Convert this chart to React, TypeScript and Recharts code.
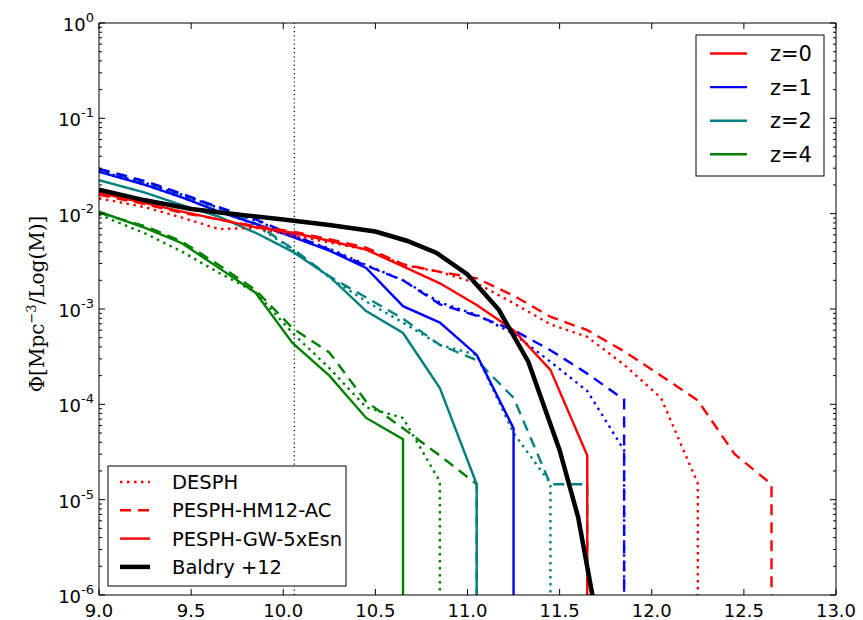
import { LineChart, Line, XAxis, YAxis, ReferenceLine } from "recharts";

const W = 863;
const H = 620;

// bin centres (log stellar mass); the first entry is the left edge of the plot
const BINS = [
  9.0, 9.25, 9.45, 9.65, 9.85, 10.05, 10.25, 10.45, 10.65, 10.85, 11.05,
  11.25, 11.45, 11.65, 11.85, 12.05, 12.25, 12.45, 12.65,
];

// z = 0
const Z0_DESPH = [1.45e-2, 1.17e-2, 9.1e-3, 6.9e-3, 7.1e-3, 5.9e-3, 5.0e-3, 4.2e-3, 2.9e-3, 2.45e-3, 1.86e-3, 1.15e-3, 6.9e-4, 5.1e-4, 2.6e-4, 1.17e-4, 1.48e-5];
const Z0_HM12 = [1.58e-2, 1.26e-2, 1.02e-2, 8.7e-3, 7.4e-3, 6.5e-3, 5.4e-3, 4.4e-3, 2.95e-3, 2.45e-3, 2.1e-3, 1.38e-3, 8.3e-4, 6.0e-4, 3.6e-4, 2.0e-4, 1.1e-4, 3.0e-5, 1.45e-5];
const Z0_GW = [1.66e-2, 1.29e-2, 1.05e-2, 8.7e-3, 7.2e-3, 6.3e-3, 5.2e-3, 4.2e-3, 2.8e-3, 1.86e-3, 1.1e-3, 6.0e-4, 2.3e-4, 2.9e-5];
// z = 1
const Z1_DESPH = [2.8e-2, 2.1e-2, 1.58e-2, 1.15e-2, 8.5e-3, 5.9e-3, 4.3e-3, 2.9e-3, 2.0e-3, 1.17e-3, 8.7e-4, 5.5e-4, 2.8e-4, 1.38e-4, 3.3e-5];
const Z1_HM12 = [2.95e-2, 2.2e-2, 1.62e-2, 1.17e-2, 8.7e-3, 6.0e-3, 4.2e-3, 2.85e-3, 2.0e-3, 1.12e-3, 8.5e-4, 6.0e-4, 3.7e-4, 2.1e-4, 1.12e-4];
const Z1_GW = [2.75e-2, 2.0e-2, 1.48e-2, 1.05e-2, 7.8e-3, 5.7e-3, 4.1e-3, 2.7e-3, 1.07e-3, 7.2e-4, 3.3e-4, 5.6e-5];
// z = 2
const Z2_DESPH = [2.75e-2, 2.0e-2, 1.48e-2, 1.07e-2, 7.6e-3, 4.2e-3, 2.15e-3, 1.2e-3, 7.2e-4, 4.2e-4, 3.3e-4, 5.0e-5, 1.48e-5];
const Z2_HM12 = [2.88e-2, 2.09e-2, 1.55e-2, 1.15e-2, 7.9e-3, 4.3e-3, 2.2e-3, 1.32e-3, 7.9e-4, 4.2e-4, 2.9e-4, 1.17e-4, 1.45e-5, 1.45e-5];
const Z2_GW = [2.24e-2, 1.66e-2, 1.23e-2, 9.3e-3, 6.3e-3, 4.0e-3, 2.2e-3, 9.5e-4, 5.6e-4, 1.48e-4, 1.45e-5];
// z = 4
const Z4_DESPH = [9.8e-3, 6.2e-3, 4.0e-3, 2.4e-3, 1.5e-3, 5.6e-4, 2.4e-4, 9.3e-5, 7.2e-5, 1.55e-5];
const Z4_HM12 = [1.02e-2, 7.4e-3, 5.1e-3, 2.9e-3, 1.58e-3, 6.3e-4, 3.5e-4, 1.07e-4, 5.6e-5, 2.9e-5, 1.45e-5];
const Z4_GW = [1.05e-2, 7.1e-3, 4.9e-3, 2.7e-3, 1.48e-3, 4.4e-4, 2.0e-4, 7.2e-5, 4.3e-5];

// Baldry et al. 2012
const BALDRY_X = [9.0, 9.25, 9.5, 9.75, 10.0, 10.25, 10.5, 10.67, 10.83, 11.0, 11.17, 11.33, 11.5, 11.6, 11.68];
const BALDRY_PHI = [1.78e-2, 1.38e-2, 1.12e-2, 9.8e-3, 8.7e-3, 7.6e-3, 6.5e-3, 5.2e-3, 3.9e-3, 2.3e-3, 9.8e-4, 2.8e-4, 3.3e-5, 6.6e-6, 9.5e-7];

const X_TICKS = [9.0, 9.5, 10.0, 10.5, 11.0, 11.5, 12.0, 12.5, 13.0];
const DECADES = [-6, -5, -4, -3, -2, -1, 0];
const V_LINE = 10.06;
const FLOOR = 1e-7; // empty bins below the axis

const RED = "#ff0000";
const BLUE = "#0000ff";
const TEAL = "#008080";
const GREEN = "#008000";
const DOTTED = "2.5 4.5";
const DASHED = "11 7";
const FONT = "'DejaVu Sans', sans-serif";
const LW = 2.4;

const Y_TICKS: number[] = [];
DECADES.forEach((d) => {
  Y_TICKS.push(Math.pow(10, d));
  if (d < 0) for (let k = 2; k <= 9; k++) Y_TICKS.push(k * Math.pow(10, d));
});

function withDrop(phi: number[]) {
  const pts = phi.map((v, i) => ({ x: BINS[i], phi: v }));
  pts.push({ x: BINS[phi.length - 1], phi: FLOOR });
  return pts;
}

const SERIES = [
  { id: "z4-desph", phi: Z4_DESPH, color: GREEN, dash: DOTTED },
  { id: "z4-hm12", phi: Z4_HM12, color: GREEN, dash: DASHED },
  { id: "z4-gw", phi: Z4_GW, color: GREEN, dash: undefined },
  { id: "z2-desph", phi: Z2_DESPH, color: TEAL, dash: DOTTED },
  { id: "z2-hm12", phi: Z2_HM12, color: TEAL, dash: DASHED },
  { id: "z2-gw", phi: Z2_GW, color: TEAL, dash: undefined },
  { id: "z1-desph", phi: Z1_DESPH, color: BLUE, dash: DOTTED },
  { id: "z1-hm12", phi: Z1_HM12, color: BLUE, dash: DASHED },
  { id: "z1-gw", phi: Z1_GW, color: BLUE, dash: undefined },
  { id: "z0-desph", phi: Z0_DESPH, color: RED, dash: DOTTED },
  { id: "z0-hm12", phi: Z0_HM12, color: RED, dash: DASHED },
  { id: "z0-gw", phi: Z0_GW, color: RED, dash: undefined },
];

const baldry = BALDRY_X.map((x, i) => ({ x, phi: BALDRY_PHI[i] }));

function isMajor(v: number) {
  const l = Math.log10(v);
  return Math.abs(l - Math.round(l)) < 1e-6;
}

function BottomTick(p: any) {
  const { x, y, payload } = p;
  return (
    <g>
      <line x1={x} x2={x} y1={y} y2={y - 6} stroke="#000" />
      <text x={x} y={y + 22} textAnchor="middle" fontFamily={FONT} fontSize={18} fill="#000">
        {Number(payload.value).toFixed(1)}
      </text>
    </g>
  );
}

function TopTick(p: any) {
  const { x, y } = p;
  return <line x1={x} x2={x} y1={y} y2={y + 6} stroke="#000" />;
}

function LeftTick(p: any) {
  const { x, y, payload } = p;
  const major = isMajor(payload.value);
  const e = Math.round(Math.log10(payload.value));
  return (
    <g>
      <line x1={x} x2={x + (major ? 6 : 3)} y1={y} y2={y} stroke="#000" />
      {major && (
        <text x={x - 5} y={y + 8} textAnchor="end" fontFamily={FONT} fontSize={18} fill="#000">
          10
          <tspan dy={-9} fontSize={13}>
            {String(e)}
          </tspan>
        </text>
      )}
    </g>
  );
}

function RightTick(p: any) {
  const { x, y, payload } = p;
  const major = isMajor(payload.value);
  return <line x1={x} x2={x - (major ? 6 : 3)} y1={y} y2={y} stroke="#000" />;
}

const Z_LEGEND = [
  { label: "z=0", color: RED },
  { label: "z=1", color: BLUE },
  { label: "z=2", color: TEAL },
  { label: "z=4", color: GREEN },
];

const MODEL_LEGEND = [
  { label: "DESPH", color: RED, dash: DOTTED, width: LW },
  { label: "PESPH-HM12-AC", color: RED, dash: DASHED, width: LW },
  { label: "PESPH-GW-5xEsn", color: RED, dash: undefined, width: LW },
  { label: "Baldry +12", color: "#000", dash: undefined, width: 4.5 },
];

export default function App() {
  return (
    <div style={{ position: "absolute", left: 0, top: 0, width: W, height: H, background: "#fff" }}>
      <LineChart width={W} height={H} margin={{ top: 0, right: 0, bottom: 0, left: 0 }}>
        <XAxis
          xAxisId="b"
          dataKey="x"
          type="number"
          domain={[9, 13]}
          ticks={X_TICKS}
          interval={0}
          allowDataOverflow
          height={25}
          orientation="bottom"
          stroke="#000"
          tickLine={false}
          tickSize={0}
          tickMargin={0}
          tick={(p: any) => <BottomTick {...p} />}
        />
        <XAxis
          xAxisId="t"
          dataKey="x"
          type="number"
          domain={[9, 13]}
          ticks={X_TICKS}
          interval={0}
          allowDataOverflow
          height={23}
          orientation="top"
          stroke="#000"
          tickLine={false}
          tickSize={0}
          tickMargin={0}
          tick={(p: any) => <TopTick {...p} />}
        />
        <YAxis
          yAxisId="l"
          type="number"
          scale="log"
          domain={[1e-6, 1]}
          ticks={Y_TICKS}
          interval={0}
          allowDataOverflow
          width={99}
          stroke="#000"
          tickLine={false}
          tickSize={0}
          tickMargin={0}
          tick={(p: any) => <LeftTick {...p} />}
        />
        <YAxis
          yAxisId="r"
          orientation="right"
          type="number"
          scale="log"
          domain={[1e-6, 1]}
          ticks={Y_TICKS}
          interval={0}
          allowDataOverflow
          width={27}
          stroke="#000"
          tickLine={false}
          tickSize={0}
          tickMargin={0}
          tick={(p: any) => <RightTick {...p} />}
        />
        <ReferenceLine xAxisId="b" yAxisId="l" x={V_LINE} stroke="#000" strokeWidth={1.2} strokeDasharray="1.2 3" />
        {SERIES.map((s) => (
          <Line
            key={s.id}
            xAxisId="b"
            yAxisId="l"
            data={withDrop(s.phi)}
            dataKey="phi"
            type="linear"
            stroke={s.color}
            strokeWidth={LW}
            strokeDasharray={s.dash}
            dot={false}
            activeDot={false}
            isAnimationActive={false}
          />
        ))}
        <Line
          xAxisId="b"
          yAxisId="l"
          data={baldry}
          dataKey="phi"
          type="linear"
          stroke="#000"
          strokeWidth={4.5}
          dot={false}
          activeDot={false}
          isAnimationActive={false}
        />
      </LineChart>

      <svg width={W} height={H} style={{ position: "absolute", left: 0, top: 0, pointerEvents: "none" }}>
        <text
          transform="translate(44,304) rotate(-90)"
          textAnchor="middle"
          fontFamily="'DejaVu Serif', serif"
          fontSize={20}
          fill="#000"
        >
          Φ[Mpc
          <tspan dy={-8} fontSize={13}>
            −3
          </tspan>
          <tspan dy={8}>/Log(M)]</tspan>
        </text>

        <rect x={696} y={35} width={128} height={141} fill="#fff" stroke="#000" strokeWidth={1} />
        {Z_LEGEND.map((e, i) => {
          const cy = 53.5 + i * 33.6;
          return (
            <g key={e.label}>
              <line x1={710} x2={747} y1={cy} y2={cy} stroke={e.color} strokeWidth={LW} />
              <text x={770} y={cy + 7.5} fontFamily={FONT} fontSize={21} fill="#000">
                {e.label}
              </text>
            </g>
          );
        })}

        <rect x={108} y={466} width={238} height={120} fill="#fff" stroke="#000" strokeWidth={1} />
        {MODEL_LEGEND.map((e, i) => {
          const cy = 482 + i * 28.3;
          return (
            <g key={e.label}>
              <line x1={120} x2={150} y1={cy} y2={cy} stroke={e.color} strokeWidth={e.width} strokeDasharray={e.dash} />
              <text x={172} y={cy + 7} fontFamily={FONT} fontSize={19.5} fill="#000">
                {e.label}
              </text>
            </g>
          );
        })}
      </svg>
    </div>
  );
}
